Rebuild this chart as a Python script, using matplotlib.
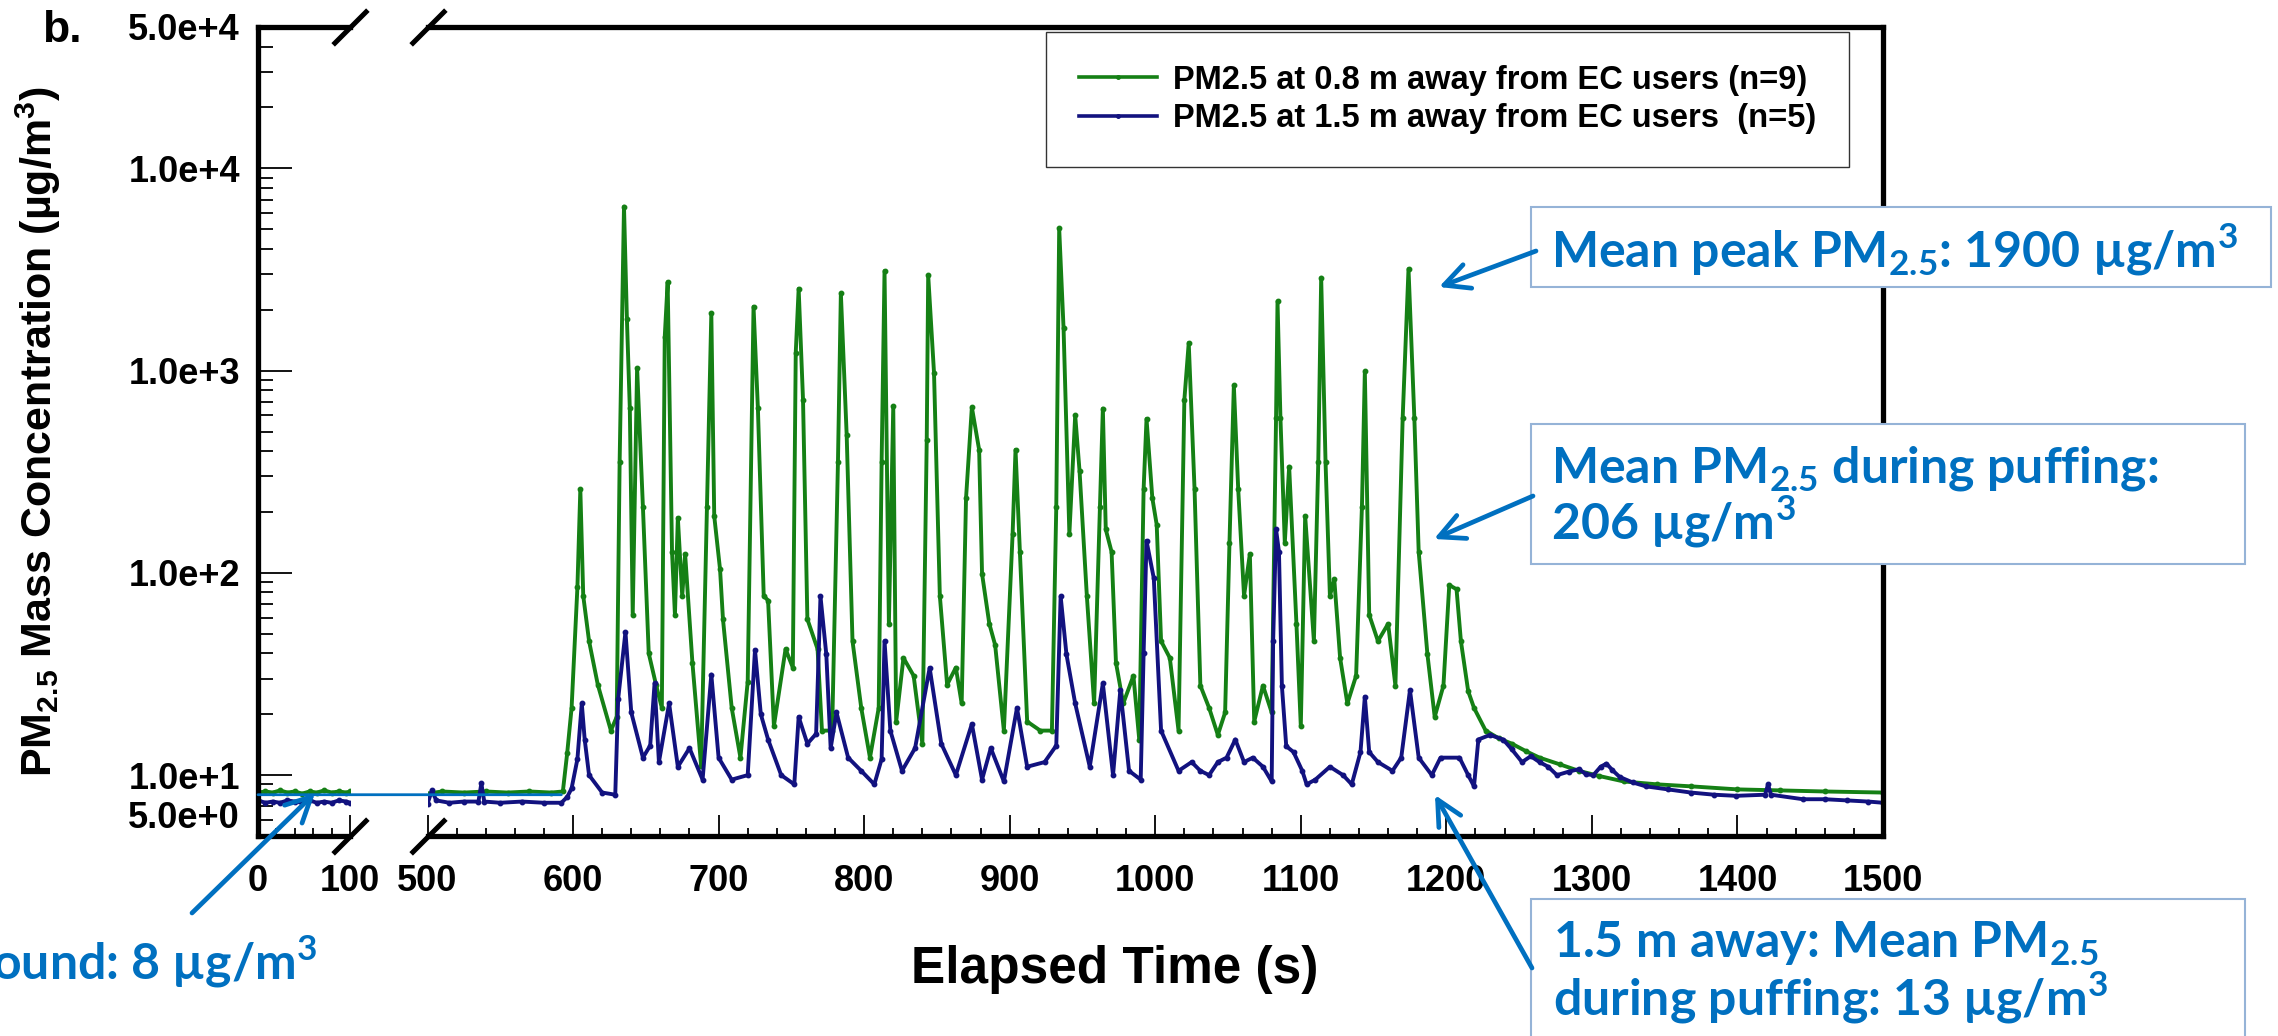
import numpy as np
import matplotlib
matplotlib.use("Agg")
import matplotlib.pyplot as plt
from matplotlib.patches import Rectangle, FancyArrowPatch, ConnectionPatch, ArrowStyle
from matplotlib.ticker import LogLocator, NullFormatter

plt.rcParams['font.family'] = ['Liberation Sans', 'DejaVu Sans']
plt.rcParams['font.weight'] = 'bold'

# ---- data ----
# first segment of the broken time axis (0-100 s)
left_t = [0, 8, 16, 24, 32, 40, 48, 56, 64, 72, 80, 88, 96, 100]
green_left = [8.2, 8.3, 8.2, 8.4, 8.2, 8.3, 8.1, 8.3, 8.2, 8.4, 8.2, 8.3, 8.2, 8.3]
blue_left = [7.5, 7.3, 7.4, 7.3, 7.5, 7.4, 7.3, 7.5, 7.3, 7.4, 7.3, 7.5, 7.4, 7.3]

# 0.8 m away (green), 500-1500 s
green_t = [500, 510, 525, 540, 555, 570, 585, 593, 596, 599, 603, 605, 607, 611, 617, 626, 630,
           632, 635, 637, 639, 641, 644, 648, 652, 657, 661, 663, 665, 668, 670, 672, 675, 677,
           682, 688, 692, 695, 697, 701, 703, 709, 715, 720, 724, 727, 731, 734, 738, 746, 751,
           753, 755, 758, 761, 768, 771, 778, 782, 784, 788, 792, 798, 804, 810, 812, 814, 817,
           820, 822, 827, 834, 840, 843, 844, 848, 852, 857, 863, 867, 870, 874, 879, 881, 886,
           890, 896, 902, 904, 907, 912, 921, 929, 932, 934, 937, 941, 945, 948, 953, 958, 962,
           964, 966, 970, 973, 978, 985, 989, 992, 994, 998, 1001, 1004, 1010, 1016, 1020, 1023,
           1027, 1031, 1037, 1043, 1048, 1051, 1054, 1057, 1061, 1065, 1068, 1074, 1080, 1083,
           1084, 1086, 1089, 1092, 1097, 1100, 1103, 1109, 1112, 1114, 1117, 1120, 1123, 1127,
           1132, 1138, 1142, 1144, 1147, 1153, 1160, 1165, 1170, 1174, 1178, 1181, 1187, 1192,
           1198, 1202, 1207, 1210, 1215, 1219, 1227, 1236, 1245, 1255, 1264, 1278, 1291, 1305,
           1322, 1345, 1368, 1400, 1429, 1460, 1500]
green_v = [8.1, 8.3, 8.2, 8.3, 8.2, 8.3, 8.2, 8.3, 12.9, 21.5, 85, 259, 77, 46, 28, 16.6, 19.4,
           352, 6470, 1800, 650, 62, 1030, 212, 40, 28, 21.5, 1470, 2740, 127, 62, 187, 77, 124,
           36, 11.1, 212, 1920, 191, 104, 59, 21.5, 12.2, 29, 2070, 650, 77, 73, 17.5, 42, 34,
           1225, 2540, 718, 59, 42, 16.6, 16.6, 352, 2410, 479, 46, 21.5, 12.2, 21.5, 352, 3110, 56,
           665, 18.4, 38, 31, 14.3, 454, 2960, 975, 77, 28, 34, 22.6, 234, 659, 406, 99, 56,
           44, 16.6, 156, 406, 127, 18.4, 16.6, 16.6, 212, 5050, 1620, 156, 601, 318, 77, 22.6, 212,
           649, 164, 127, 36, 22.6, 31, 15, 259, 577, 234, 173, 46, 38, 16.6, 718, 1371,
           259, 27.7, 21.5, 15.8, 20.4, 141, 845, 259, 77, 124, 18.4, 27.7, 20.4, 586,
           2200, 586, 141, 335, 56, 17.5, 191, 46, 352, 2880, 352, 77, 93, 38,
           22.6, 31, 212, 990, 62, 46, 56, 27.7, 586, 3180, 586, 127, 39.5, 19.4,
           27.7, 87, 83, 46, 26, 21.5, 16.6, 15.2, 14.3, 13.1, 12.2, 11.3, 10.5, 9.9,
           9.3, 9.0, 8.8, 8.5, 8.4, 8.3, 8.2]

# 1.5 m away (navy), 500-1500 s
blue_t = [500, 503, 506, 515, 525, 535, 537, 539, 550, 565, 580, 592, 596, 599, 603, 606, 608,
          611, 620, 629, 631, 636, 640, 648, 653, 656, 659, 666, 672, 680, 689, 695, 700, 709,
          720, 725, 729, 734, 743, 752, 755, 761, 767, 770, 774, 777, 781, 789, 798, 807, 812,
          814, 818, 826, 835, 845, 853, 863, 874, 881, 887, 896, 905, 912, 924, 932, 935, 939,
          945, 955, 964, 971, 976, 982, 990, 992, 994, 999, 1004, 1016, 1025, 1031, 1037, 1043,
          1049, 1055, 1061, 1067, 1074, 1080, 1081, 1083, 1085, 1087, 1090, 1095, 1101, 1104,
          1110, 1120, 1129, 1135, 1141, 1144, 1147, 1153, 1163, 1169, 1175, 1181, 1190, 1196,
          1209, 1215, 1219, 1222, 1230, 1239, 1245, 1252, 1258, 1264, 1270, 1276, 1284, 1291,
          1296, 1301, 1306, 1310, 1314, 1319, 1328, 1337, 1352, 1368, 1384, 1399, 1419, 1421,
          1423, 1445, 1460, 1475, 1490, 1500]
blue_v = [7.2, 8.4, 7.5, 7.3, 7.4, 7.4, 9.1, 7.4, 7.3, 7.4, 7.3, 7.3, 7.8, 8.6, 12, 22.6, 15,
          10, 8.2, 8, 23.8, 51, 20.4, 12.2, 14, 28.4, 11.6, 22.6, 11, 13.6, 9.5, 31.4, 12.2, 9.5,
          10, 41.6, 20, 15, 10, 9, 19.4, 14.3, 16, 76.6, 39.5, 13.6, 20.4, 12.2, 10.5, 9, 12,
          46, 16.6, 10.5, 13.6, 33.9, 14.3, 10, 17.9, 9.5, 13.6, 9.3, 21.5, 11, 11.6, 14, 76.6, 39.5,
          22.6, 11, 28.4, 10, 26.3, 10.5, 9.5, 40, 144, 94, 16.6, 10.5, 11.6, 10.5, 10, 11.6,
          12.2, 15, 11.6, 12.2, 11, 9.3, 46, 164, 127, 27.7, 13.9, 13, 10.5, 9,
          9.5, 11, 10, 9, 13, 24.4, 13, 11.6, 10.5, 12.2, 26.3, 12.2, 10, 12.2,
          12.2, 10, 8.8, 15, 15.8, 15, 13.4, 11.6, 12.4, 11.6, 11.0, 10, 10.4, 10.7,
          10.1, 10, 11.0, 11.4, 10.6, 9.8, 9.2, 8.8, 8.5, 8.2, 8.0, 7.9, 8.0, 9.0,
          8.0, 7.6, 7.6, 7.5, 7.4, 7.3]

bg_level = 8
bg_end = 592

y_ticks = [5, 10, 100, 1000, 1e4, 5e4]
y_ticklabels = ['5.0e+0', '1.0e+1', '1.0e+2', '1.0e+3', '1.0e+4', '5.0e+4']
legend_labels = ['PM2.5 at 0.8 m away from EC users (n=9)',
                 'PM2.5 at 1.5 m away from EC users  (n=5)']

GREEN = '#158015'
NAVY = '#12127f'
BLUE = '#0070C0'
BOXEDGE = '#95B3D7'

W, H = 2278, 1036


def fx(x):
    return x / W


def fy(y):
    return 1 - y / H


fig = plt.figure(figsize=(W / 100, H / 100), dpi=100)
ax_l = fig.add_axes([fx(258), fy(836), (350 - 258) / W, (836 - 27) / H])
ax_r = fig.add_axes([fx(427.5), fy(836), (1883 - 427.5) / W, (836 - 27) / H], sharey=ax_l)

line_kw = dict(lw=2.8, marker='o', ms=3.2)
ax_l.plot(left_t, green_left, color=GREEN, **line_kw)
ax_l.plot(left_t, blue_left, color=NAVY, **line_kw)
g_line, = ax_r.plot(green_t, green_v, color=GREEN, **line_kw)
b_line, = ax_r.plot(blue_t, blue_v, color=NAVY, **line_kw)

ax_l.set_yscale('log')
ax_l.set_ylim(5, 5e4)
ax_l.set_xlim(0, 100)
ax_r.set_xlim(500, 1500)

ax_l.set_yticks(y_ticks, labels=y_ticklabels)
ax_l.yaxis.set_minor_locator(LogLocator(base=10, subs=np.arange(2, 10)))
ax_l.yaxis.set_minor_formatter(NullFormatter())
ax_l.get_yticklabels()[0].set_va('bottom')

ax_l.set_xticks([0, 100])
ax_l.set_xticks(np.arange(20, 100, 20), minor=True)
ax_r.set_xticks(np.arange(500, 1501, 100))
ax_r.set_xticks(np.arange(500, 1500, 20), minor=True)

for ax in (ax_l, ax_r):
    for s in ax.spines.values():
        s.set_linewidth(3.8)
    ax.tick_params(axis='x', which='major', direction='in', length=15, width=1.3,
                   labelsize=26, pad=20)
    ax.tick_params(axis='x', which='minor', direction='in', length=5.5, width=1.3)
ax_l.spines['right'].set_visible(False)
ax_r.spines['left'].set_visible(False)
ax_l.tick_params(axis='y', which='major', direction='in', length=24.5, width=1.3,
                 labelsize=26, pad=13)
ax_l.tick_params(axis='y', which='minor', direction='in', length=10.8, width=1.3)
ax_r.tick_params(axis='y', which='both', left=False, labelleft=False)

# break marks
brk = dict(marker=[(-1, -1), (1, 1)], markersize=25, linestyle='none', color='k',
           mec='k', mew=3.6, clip_on=False)
ax_l.plot([1, 1], [0, 1], transform=ax_l.transAxes, **brk)
ax_r.plot([0, 0], [0, 1], transform=ax_r.transAxes, **brk)

leg = ax_r.legend([g_line, b_line], legend_labels, loc='upper left',
                  bbox_to_anchor=(fx(1046), fy(32)), bbox_transform=fig.transFigure,
                  borderaxespad=0, fontsize=23.5, handlelength=2.4, handletextpad=0.5,
                  borderpad=1.0, labelspacing=0.23, fancybox=False, edgecolor='#333333',
                  framealpha=1, numpoints=1, markerscale=0.8)
leg.get_frame().set_linewidth(1.0)
for h in leg.get_lines():
    h.set_linewidth(2.6)

fig.text(fx(42), fy(42), 'b.', fontsize=32, ha='left', va='baseline')
fig.text(fx(38), fy(432), r'PM$_{\mathdefault{2.5}}$ Mass Concentration (µg/m$^{\mathdefault{3}}$)',
         rotation=90, ha='center', va='center', fontsize=31)
fig.text(fx(1115), fy(970), 'Elapsed Time (s)', ha='center', va='center', fontsize=37)

# background level line crossing the break
con = ConnectionPatch(xyA=(0, bg_level), coordsA='data', axesA=ax_l,
                      xyB=(bg_end, bg_level), coordsB='data', axesB=ax_r,
                      color=BLUE, lw=2.0)
fig.add_artist(con)


def add_box(x0, y0, x1, y1):
    fig.add_artist(Rectangle((fx(x0), fy(y1)), (x1 - x0) / W, (y1 - y0) / H,
                             transform=fig.transFigure, facecolor='white',
                             edgecolor=BOXEDGE, lw=1.5))


def add_arrow(x0, y0, x1, y1):
    fig.add_artist(FancyArrowPatch((fx(x0), fy(y0)), (fx(x1), fy(y1)),
                                   transform=fig.transFigure,
                                   arrowstyle=ArrowStyle('->', head_length=0.9, head_width=0.45),
                                   mutation_scale=20, lw=3.4, color=BLUE,
                                   shrinkA=0, shrinkB=0))


note_kw = dict(family='Lato', weight='bold', fontsize=36, color=BLUE, va='baseline')

add_box(1531, 207, 2271, 287)
fig.text(fx(1551), fy(267), r'Mean peak PM$_{\mathdefault{2.5}}$: 1900 µg/m$^{\mathdefault{3}}$', **note_kw)
add_arrow(1536, 251, 1439, 287)

add_box(1531, 424, 2245, 564)
fig.text(fx(1551), fy(482), r'Mean PM$_{\mathdefault{2.5}}$ during puffing:', **note_kw)
fig.text(fx(1551), fy(540), r'206 µg/m$^{\mathdefault{3}}$', **note_kw)
add_arrow(1533, 496, 1434, 539)

add_box(1531, 899, 2245, 1060)
fig.text(fx(1553), fy(958), r'1.5 m away: Mean PM$_{\mathdefault{2.5}}$', **note_kw)
fig.text(fx(1553), fy(1016), r'during puffing: 13 µg/m$^{\mathdefault{3}}$', **note_kw)
add_arrow(1532, 968, 1435, 795)

fig.text(fx(318), fy(979), r'Background: 8 µg/m$^{\mathdefault{3}}$', ha='right', **note_kw)
add_arrow(192, 913, 315, 793)

fig.savefig('out.png', dpi=100)
